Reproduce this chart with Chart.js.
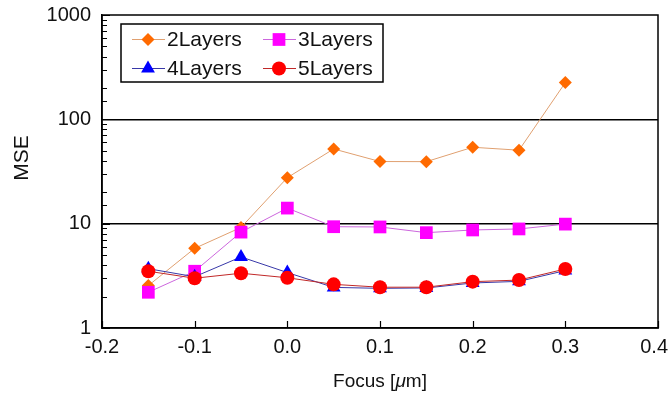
<!DOCTYPE html>
<html>
<head>
<meta charset="utf-8">
<title>MSE vs Focus</title>
<script src="https://cdn.jsdelivr.net/npm/chart.js@4.4.0/dist/chart.umd.min.js"></script>
<style>
    html, body { margin: 0; padding: 0; background: #ffffff; }
    #wrap { width: 669px; height: 397px; }
</style>
</head>
<body>
<div id="wrap"><canvas id="myChart" width="669" height="397"></canvas></div>
<script>
// focus positions [um]
const focusValues = [-0.15, -0.1, -0.05, 0.0, 0.05, 0.1, 0.15, 0.2, 0.25, 0.3];

// MSE
const mse2Layers = [2.55, 5.8, 9.2, 27.6, 52, 39.4, 39.3, 54, 50.6, 225];
const mse3Layers = [2.2, 3.5, 8.3, 14.1, 9.35, 9.3, 8.2, 8.7, 8.9, 9.9];
const mse4Layers = [3.7, 3.1, 4.8, 3.4, 2.45, 2.4, 2.42, 2.7, 2.8, 3.55];
const mse5Layers = [3.5, 3.0, 3.35, 3.03, 2.62, 2.46, 2.46, 2.78, 2.88, 3.68];

const xTicks = [-0.2, -0.1, 0.0, 0.1, 0.2, 0.3, 0.4];
const yLabelValues = [1, 10, 100, 1000];
const yLineValues = [10, 100];

const FONT = "'Liberation Sans', Arial, sans-serif";

function toPoints(vals){
    const out = [];
    for(let i = 0; i < vals.length; i++){
        out.push({x: focusValues[i], y: vals[i]});
    }
    return out;
}

const seriesList = [
    {label: '2Layers', data: mse2Layers, point: '#ff6a00', line: '#e0a070', style: 'rectRot', radius: 6.5, order: 4},
    {label: '3Layers', data: mse3Layers, point: '#ff00ff', line: '#cc66dd', style: 'rect', radius: 9, order: 3},
    {label: '4Layers', data: mse4Layers, point: '#0000ff', line: '#3838a8', style: 'triangle', radius: 8, order: 2},
    {label: '5Layers', data: mse5Layers, point: '#ff0000', line: '#c02828', style: 'circle', radius: 7, order: 1}
];

const datasets = seriesList.map(s => ({
    label: s.label,
    data: toPoints(s.data),
    borderColor: s.line,
    borderWidth: 1,
    backgroundColor: s.point,
    pointBackgroundColor: s.point,
    pointBorderColor: s.point,
    pointBorderWidth: 0,
    pointStyle: s.style,
    pointRadius: s.radius,
    pointHoverRadius: s.radius,
    showLine: true,
    tension: 0,
    order: s.order
}));

// inside ticks, frame, tick labels, titles and legend box
const decorPlugin = {
    id: 'decor',
    beforeDatasetsDraw(chart){
        const ctx = chart.ctx;
        const area = chart.chartArea;
        const xs = chart.scales.x;
        const ys = chart.scales.y;
        ctx.save();
        ctx.strokeStyle = '#000';
        ctx.lineWidth = 1.2;
        ctx.beginPath();
        ys.ticks.forEach(t => {
            const y = Math.round(ys.getPixelForValue(t.value)) + 0.5;
            const len = yLabelValues.includes(t.value) ? 8 : 5;
            ctx.moveTo(area.left, y);
            ctx.lineTo(area.left + len, y);
        });
        xs.ticks.forEach(t => {
            const x = Math.round(xs.getPixelForValue(t.value)) + 0.5;
            ctx.moveTo(x, area.bottom);
            ctx.lineTo(x, area.bottom - 7);
        });
        ctx.stroke();

        // x tick labels, last one kept inside the canvas like the original
        ctx.fillStyle = '#111';
        ctx.font = '20px ' + FONT;
        ctx.textBaseline = 'top';
        ctx.textAlign = 'left';
        xs.ticks.forEach(t => {
            const txt = Number(t.value).toFixed(1);
            const w = ctx.measureText(txt).width;
            let x = xs.getPixelForValue(t.value) - w / 2;
            if (x + w > chart.width - 1) x = chart.width - 1 - w;
            ctx.fillText(txt, x, area.bottom + 9);
        });
        ctx.restore();
    },
    afterDraw(chart){
        const ctx = chart.ctx;
        const area = chart.chartArea;
        ctx.save();
        ctx.strokeStyle = '#000';
        ctx.lineWidth = 1.5;
        ctx.strokeRect(area.left, area.top, area.right - area.left, area.bottom - area.top);

        // y title
        ctx.fillStyle = '#111';
        ctx.font = '21px ' + FONT;
        ctx.textAlign = 'center';
        ctx.textBaseline = 'middle';
        ctx.translate(22, 158);
        ctx.rotate(-Math.PI / 2);
        ctx.fillText('MSE', 0, 0);
        ctx.restore();

        // x title with italic mu
        ctx.save();
        ctx.fillStyle = '#111';
        ctx.textBaseline = 'middle';
        const parts = [['Focus [', ''], ['\u03bc', 'italic '], ['m]', '']];
        let total = 0;
        parts.forEach(p => { ctx.font = p[1] + '19px ' + FONT; total += ctx.measureText(p[0]).width; });
        let x = (area.left + area.right) / 2 - total / 2;
        parts.forEach(p => {
            ctx.font = p[1] + '19px ' + FONT;
            ctx.fillText(p[0], x, 382);
            x += ctx.measureText(p[0]).width;
        });
        ctx.restore();

        // legend
        ctx.save();
        ctx.fillStyle = '#fff';
        ctx.fillRect(121, 24, 262, 58);
        ctx.strokeStyle = '#000';
        ctx.lineWidth = 1.5;
        ctx.strokeRect(121, 24, 262, 58);
        const cols = [132, 263];
        const rows = [39.5, 68.5];
        seriesList.forEach((s, i) => {
            const cx = cols[i % 2];
            const cy = rows[Math.floor(i / 2)];
            ctx.strokeStyle = s.line;
            ctx.lineWidth = 1;
            ctx.beginPath();
            ctx.moveTo(cx, cy);
            ctx.lineTo(cx + 33, cy);
            ctx.stroke();
            ctx.fillStyle = s.point;
            ctx.strokeStyle = s.point;
            Chart.helpers.drawPoint(ctx, {pointStyle: s.style, radius: s.radius, rotation: 0, borderWidth: 0}, cx + 16, cy);
            ctx.fillStyle = '#111';
            ctx.font = '21px ' + FONT;
            ctx.textAlign = 'left';
            ctx.textBaseline = 'middle';
            ctx.fillText(s.label, cx + 35, cy + 1);
        });
        ctx.restore();
    }
};

const ctx1 = document.getElementById('myChart').getContext('2d');
const mychart = new Chart(ctx1, {
    type: 'scatter',
    data: { datasets: datasets },
    options: {
        responsive: false,
        animation: false,
        devicePixelRatio: 1,
        layout: { padding: { top: 15, right: 11, left: 0, bottom: 0 } },
        plugins: {
            legend: { display: false },
            tooltip: { enabled: false }
        },
        scales: {
            x: {
                type: 'linear',
                min: -0.2,
                max: 0.4,
                afterFit(scale){ scale.height = 69; scale.paddingLeft = 0; scale.paddingRight = 0; },
                afterBuildTicks(scale){ scale.ticks = xTicks.map(v => ({value: v})); },
                ticks: { display: false },
                grid: { color: 'rgba(0,0,0,0)', drawTicks: false },
                border: { display: true, color: '#000', width: 1.5 }
            },
            y: {
                type: 'logarithmic',
                min: 1,
                max: 1000,
                afterFit(scale){ scale.width = 102; scale.paddingTop = 0; scale.paddingBottom = 0; },
                ticks: {
                    autoSkip: false,
                    padding: 11,
                    color: '#111',
                    font: { family: FONT, size: 20 },
                    callback: v => yLabelValues.includes(v) ? String(v) : ''
                },
                grid: {
                    drawTicks: false,
                    color: c => (c.tick && yLineValues.includes(c.tick.value)) ? '#000' : 'rgba(0,0,0,0)',
                    lineWidth: 1.5
                },
                border: { display: true, color: '#000', width: 1.5 }
            }
        }
    },
    plugins: [decorPlugin]
});
</script>
</body>
</html>
